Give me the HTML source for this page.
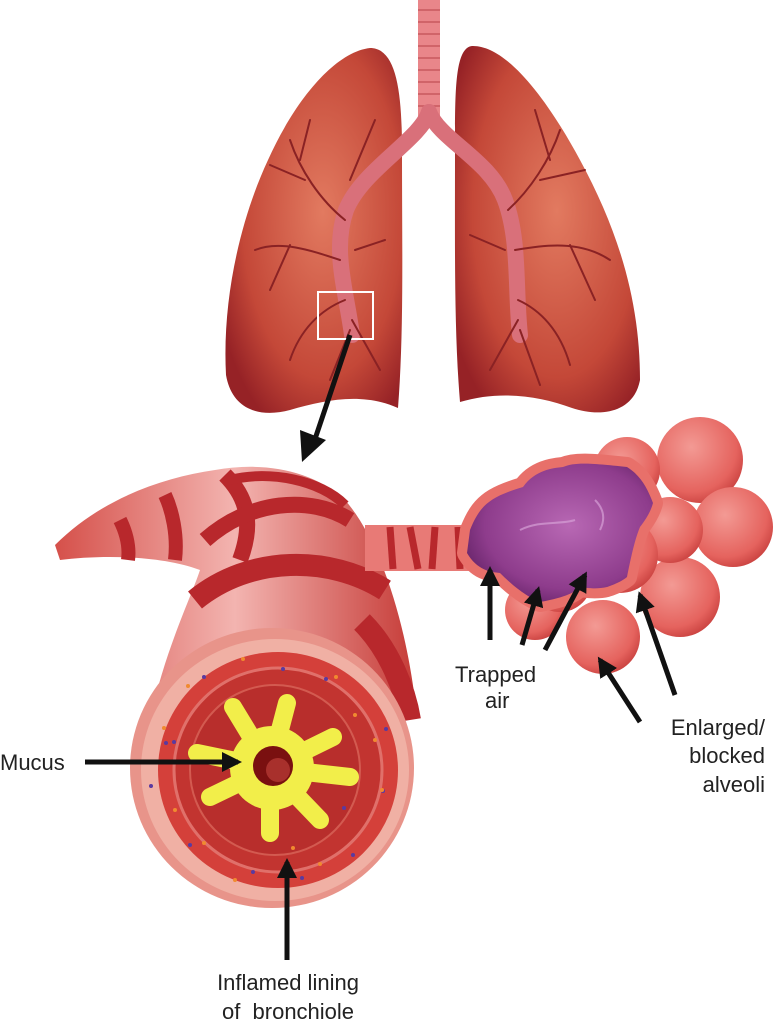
<!DOCTYPE html>
<html><head><style>html,body{margin:0;padding:0;background:#fff}svg{display:block}</style></head>
<body>
<svg width="777" height="1024" viewBox="0 0 777 1024" xmlns="http://www.w3.org/2000/svg" font-family="Liberation Sans, sans-serif">
<defs>
<radialGradient id="lung" cx="0.55" cy="0.45" r="0.65"><stop offset="0" stop-color="#e27a60"/><stop offset="0.7" stop-color="#c44838"/><stop offset="1" stop-color="#962226"/></radialGradient>
<radialGradient id="alv" cx="0.4" cy="0.35" r="0.7"><stop offset="0" stop-color="#f39a94"/><stop offset="0.75" stop-color="#e5635e"/><stop offset="1" stop-color="#c8403e"/></radialGradient>
<radialGradient id="pur" cx="0.55" cy="0.45" r="0.65"><stop offset="0" stop-color="#b868b4"/><stop offset="0.7" stop-color="#8e3c8c"/><stop offset="1" stop-color="#5e1f62"/></radialGradient>
<linearGradient id="tube" x1="0" y1="0" x2="1" y2="0"><stop offset="0" stop-color="#d5504a"/><stop offset="0.5" stop-color="#f3b4b0"/><stop offset="1" stop-color="#c63c38"/></linearGradient>
<marker id="ah" viewBox="0 0 10 10" refX="8" refY="5" markerWidth="4" markerHeight="4" orient="auto"><path d="M0,0 L10,5 L0,10 z" fill="#111"/></marker>
</defs>

<rect x="418" y="0" width="22" height="120" fill="#e9868a"/>
<g stroke="#c8585e" stroke-width="1.5">
<line x1="418" y1="10" x2="440" y2="10"/><line x1="418" y1="22" x2="440" y2="22"/><line x1="418" y1="34" x2="440" y2="34"/><line x1="418" y1="46" x2="440" y2="46"/><line x1="418" y1="58" x2="440" y2="58"/><line x1="418" y1="70" x2="440" y2="70"/><line x1="418" y1="82" x2="440" y2="82"/><line x1="418" y1="94" x2="440" y2="94"/><line x1="418" y1="106" x2="440" y2="106"/>
</g>

<path d="M370,48 C335,52 295,100 268,160 C240,220 222,300 226,375 C232,410 260,418 290,410 C325,400 362,392 398,408 C404,330 402,250 402,150 C402,90 396,48 370,48 Z" fill="url(#lung)"/>
<path d="M472,46 C505,45 545,95 580,160 C618,230 640,300 640,380 C634,412 602,418 572,408 C540,396 500,390 460,402 C454,330 455,250 455,150 C455,90 455,48 472,46 Z" fill="url(#lung)"/>

<g fill="none" stroke-linecap="round">
<path d="M429,112 C420,140 362,170 346,210 C332,250 346,290 352,335" stroke="#d9707a" stroke-width="16"/>
<path d="M429,112 C440,140 490,160 505,200 C520,240 515,290 520,335" stroke="#d9707a" stroke-width="16"/>
<g stroke="#8a2224" stroke-width="2">
<path d="M345,220 C320,200 300,170 290,140"/><path d="M305,180 L270,165"/><path d="M300,160 L310,120"/><path d="M340,260 C310,250 280,240 255,250"/><path d="M290,245 L270,290"/><path d="M345,300 C320,310 300,330 290,360"/><path d="M350,330 L330,380"/><path d="M352,320 L380,370"/><path d="M355,250 L385,240"/><path d="M350,180 L375,120"/>
<path d="M508,210 C530,190 550,160 560,130"/><path d="M540,180 L585,170"/><path d="M550,160 L535,110"/><path d="M515,250 C545,245 580,240 610,260"/><path d="M570,245 L595,300"/><path d="M518,300 C540,310 560,330 570,365"/><path d="M520,330 L540,385"/><path d="M518,320 L490,370"/><path d="M505,250 L470,235"/>
</g>
</g>
<rect x="318" y="292" width="55" height="47" fill="none" stroke="#fff" stroke-width="2"/>
<line x1="350" y1="335" x2="313" y2="445" stroke="#111" stroke-width="5"/>
<polygon points="302,462 300,430 326,440" fill="#111"/>

<path d="M55,545 C100,500 160,478 215,470 C260,462 310,468 345,500 C380,540 405,620 415,700 L150,720 C165,650 190,600 200,570 C160,555 100,555 60,560 Z" fill="url(#tube)"/>
<g fill="none" stroke="#b8282c" stroke-width="14">
<path d="M120,520 C125,530 130,545 128,560"/><path d="M165,495 C172,510 178,535 175,560"/>
<path d="M225,475 C245,495 255,520 240,560" stroke-width="16"/>
<path d="M205,540 C250,500 310,495 350,520" stroke-width="16"/>
<path d="M195,600 C250,555 330,555 385,590" stroke-width="22"/>
<path d="M230,480 C270,470 320,480 345,505" stroke-width="10"/>
</g>
<path d="M362,622 C390,650 405,690 410,720" stroke="#b8282c" stroke-width="22" fill="none"/>
<rect x="365" y="525" width="112" height="46" fill="#e87a76"/>
<g stroke="#b8282c" stroke-width="7"><line x1="390" y1="527" x2="393" y2="569"/><line x1="410" y1="527" x2="418" y2="569"/><line x1="435" y1="527" x2="432" y2="569"/><line x1="458" y1="527" x2="460" y2="569"/></g>

<ellipse cx="272" cy="768" rx="142" ry="140" fill="#e8948a"/>
<ellipse cx="275" cy="770" rx="134" ry="131" fill="#f0b0a4"/>
<ellipse cx="278" cy="770" rx="120" ry="118" fill="#d4403a"/>
<ellipse cx="278" cy="770" rx="104" ry="102" fill="#c23430" stroke="#e0706a" stroke-width="3"/>
<ellipse cx="275" cy="770" rx="85" ry="85" fill="#b82e2c" stroke="#d35a50" stroke-width="2"/>
<g stroke="#f2ee4a" stroke-width="18" stroke-linecap="round">
<line x1="270" y1="768" x2="233" y2="707"/><line x1="270" y1="768" x2="287" y2="703"/><line x1="270" y1="768" x2="333" y2="737"/><line x1="270" y1="768" x2="350" y2="777"/><line x1="270" y1="768" x2="320" y2="820"/><line x1="270" y1="768" x2="270" y2="833"/><line x1="270" y1="768" x2="210" y2="797"/><line x1="270" y1="768" x2="197" y2="753"/>
</g>
<circle cx="272" cy="768" r="42" fill="#f2ee4a"/>
<circle cx="273" cy="766" r="20" fill="#7a1010"/>
<circle cx="278" cy="770" r="12" fill="#a8302c"/>
<g fill="#5a3aa0"><circle cx="204" cy="677" r="2"/><circle cx="283" cy="669" r="2"/><circle cx="326" cy="679" r="2"/><circle cx="174" cy="742" r="2"/><circle cx="166" cy="743" r="2"/><circle cx="386" cy="729" r="2"/><circle cx="383" cy="791" r="2"/><circle cx="344" cy="808" r="2"/><circle cx="190" cy="845" r="2"/><circle cx="253" cy="872" r="2"/><circle cx="302" cy="878" r="2"/><circle cx="353" cy="855" r="2"/><circle cx="151" cy="786" r="2"/></g>
<g fill="#f08a30"><circle cx="243" cy="659" r="2"/><circle cx="188" cy="686" r="2"/><circle cx="336" cy="677" r="2"/><circle cx="355" cy="715" r="2"/><circle cx="375" cy="740" r="2"/><circle cx="164" cy="728" r="2"/><circle cx="175" cy="810" r="2"/><circle cx="204" cy="843" r="2"/><circle cx="293" cy="848" r="2"/><circle cx="320" cy="864" r="2"/><circle cx="382" cy="790" r="2"/><circle cx="235" cy="880" r="2"/></g>

<g fill="url(#alv)">
<circle cx="700" cy="460" r="43"/><circle cx="733" cy="527" r="40"/><circle cx="680" cy="597" r="40"/><circle cx="627" cy="470" r="33"/><circle cx="670" cy="530" r="33"/><circle cx="603" cy="637" r="37"/><circle cx="535" cy="610" r="30"/><circle cx="620" cy="555" r="38"/><circle cx="560" cy="580" r="32"/>
</g>
<path d="M470,530 C480,505 490,497 523,487 C535,470 553,468 563,467 C575,462 590,463 627,467 C640,475 647,487 653,503 C650,515 640,527 640,527 C636,537 633,547 627,577 C620,583 607,587 607,587 C595,590 580,587 580,587 C575,592 567,597 540,602 C530,598 517,590 500,573 C490,572 477,570 467,553 Z" fill="#e8706a" stroke="#e8706a" stroke-width="20" stroke-linejoin="round"/>
<path d="M470,530 C480,505 490,497 523,487 C535,470 553,468 563,467 C575,462 590,463 627,467 C640,475 647,487 653,503 C650,515 640,527 640,527 C636,537 633,547 627,577 C620,583 607,587 607,587 C595,590 580,587 580,587 C575,592 567,597 540,602 C530,598 517,590 500,573 C490,572 477,570 467,553 Z" fill="url(#pur)"/>
<g fill="none" stroke="#d6a0d6" stroke-width="2" opacity="0.7"><path d="M520,530 C540,520 560,525 575,520"/><path d="M595,500 C605,510 605,520 600,530"/></g>

<g stroke="#111" stroke-width="5" fill="none" marker-end="url(#ah)">
<line x1="85" y1="762" x2="238" y2="762"/>
<line x1="287" y1="960" x2="287" y2="862"/>
<line x1="490" y1="640" x2="490" y2="570"/>
<line x1="522" y1="645" x2="538" y2="590"/>
<line x1="545" y1="650" x2="585" y2="575"/>
<line x1="675" y1="695" x2="640" y2="595"/>
<line x1="640" y1="722" x2="600" y2="660"/>
</g>

<g font-size="22" fill="#222">
<text x="0" y="770">Mucus</text>
<text x="455" y="682">Trapped</text>
<text x="485" y="708">air</text>
<text x="765" y="735" text-anchor="end">Enlarged/</text>
<text x="765" y="763" text-anchor="end">blocked</text>
<text x="765" y="792" text-anchor="end">alveoli</text>
<text x="288" y="990" text-anchor="middle">Inflamed lining</text>
<text x="288" y="1019" text-anchor="middle" xml:space="preserve">of  bronchiole</text>
</g>
</svg>
</body></html>
